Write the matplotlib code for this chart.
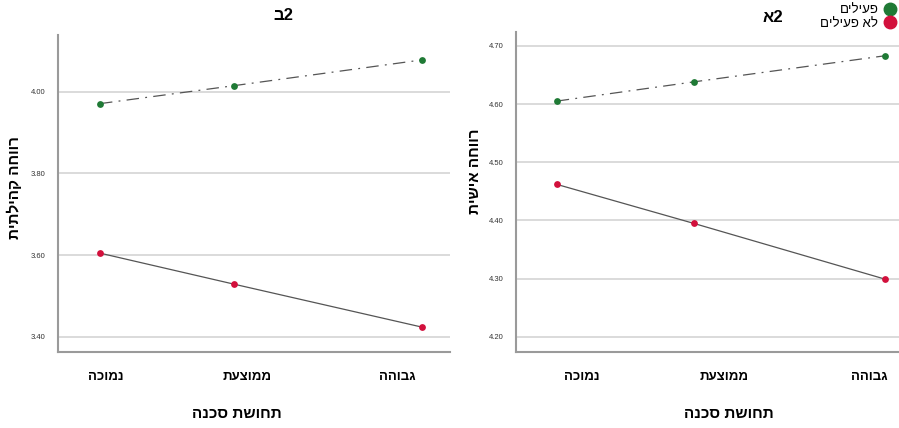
import matplotlib
matplotlib.use('Agg')
import matplotlib.pyplot as plt
from matplotlib.lines import Line2D

plt.rcParams['font.family'] = ['Liberation Sans', 'DejaVu Sans']

# hebrew strings (logical order), reversed when drawn since matplotlib has no bidi
categories = ['נמוכה', 'ממוצעת', 'גבוהה']
xlabel = 'תחושת סכנה'
series_names = ['פעילים', 'לא פעילים']

# point positions on the x axis (uneven in the original)
pt_x = [0, 1, 2.4]

# panel ב2 - community wellbeing
left_title = 'ב2'
left_ylabel = 'רווחה קהילתית'
left_active = [3.971, 4.015, 4.078]
left_inactive = [3.605, 3.529, 3.424]
left_yticks = [3.40, 3.60, 3.80, 4.00]
left_xticks = [0.04, 1.10, 2.22]

# panel א2 - personal wellbeing
right_title = 'א2'
right_ylabel = 'רווחה אישית'
right_active = [4.605, 4.638, 4.683]
right_inactive = [4.462, 4.395, 4.299]
right_yticks = [4.20, 4.30, 4.40, 4.50, 4.60, 4.70]
right_xticks = [0.18, 1.22, 2.28]

green = '#1f7a35'
red = '#d2103c'
linec = '#555555'

def rtl(s):
    return s[::-1]

fig = plt.figure(figsize=(8.99, 4.28), dpi=100)
ax1 = fig.add_axes([0.0645, 0.1776, 0.436, 0.7406])
ax2 = fig.add_axes([0.574, 0.1776, 0.426, 0.748])

def panel(ax, active, inactive, yticks, xticks, ylim, xlim):
    ax.plot(pt_x, active, color=linec, lw=0.9, ls=(0, (10, 5, 1.5, 5)), zorder=2)
    ax.plot(pt_x, inactive, color=linec, lw=0.9, zorder=2)
    ax.scatter(pt_x, active, s=24, color=green, zorder=3, linewidths=0)
    ax.scatter(pt_x, inactive, s=24, color=red, zorder=3, linewidths=0)
    ax.set_ylim(ylim)
    ax.set_xlim(xlim)
    ax.set_yticks(yticks)
    ax.set_yticklabels(['%.2f' % v for v in yticks], fontsize=5.5, color='#333333')
    ax.set_xticks(xticks)
    ax.set_xticklabels([rtl(c) for c in categories], fontsize=9.5, fontweight='bold')
    ax.tick_params(axis='x', length=0, pad=14)
    ax.tick_params(axis='y', length=0, pad=9)
    ax.yaxis.grid(True, color='#d4d4d4', lw=1.2)
    ax.set_axisbelow(True)
    for s in ['top', 'right']:
        ax.spines[s].set_visible(False)
    for s in ['left', 'bottom']:
        ax.spines[s].set_color('#9a9a9a')
        ax.spines[s].set_linewidth(1.5)

panel(ax1, left_active, left_inactive, left_yticks, left_xticks, (3.363, 4.139), (-0.313, 2.61))
panel(ax2, right_active, right_inactive, right_yticks, right_xticks, (4.174, 4.724), (-0.297, 2.5))

fig.text(283/899, 1 - 16/428, left_title, ha='center', va='center', fontsize=12,
         fontweight='bold')
fig.text(773/899, 1 - 17/428, right_title, ha='center', va='center', fontsize=12,
         fontweight='bold')

fig.text(237/899, 1 - 414/428, rtl(xlabel), ha='center', va='center', fontsize=11, fontweight='bold')
fig.text(729/899, 1 - 414/428, rtl(xlabel), ha='center', va='center', fontsize=11, fontweight='bold')
fig.text(14/899, 1 - 188/428, rtl(left_ylabel), ha='center', va='center', rotation=90,
         fontsize=11, fontweight='bold')
fig.text(475/899, 1 - 171/428, rtl(right_ylabel), ha='center', va='center', rotation=90,
         fontsize=11, fontweight='bold')

handles = [Line2D([], [], ls='none', marker='o', ms=9, color=green),
           Line2D([], [], ls='none', marker='o', ms=9, color=red)]
fig.legend(handles, [rtl(n) for n in series_names], loc='upper right',
           bbox_to_anchor=(1.008, 1.012), frameon=False, markerfirst=False,
           fontsize=9.5, handletextpad=0.4, labelspacing=0.1, borderpad=0.2,
           handlelength=1.0)

fig.savefig('out.png', dpi=100)
